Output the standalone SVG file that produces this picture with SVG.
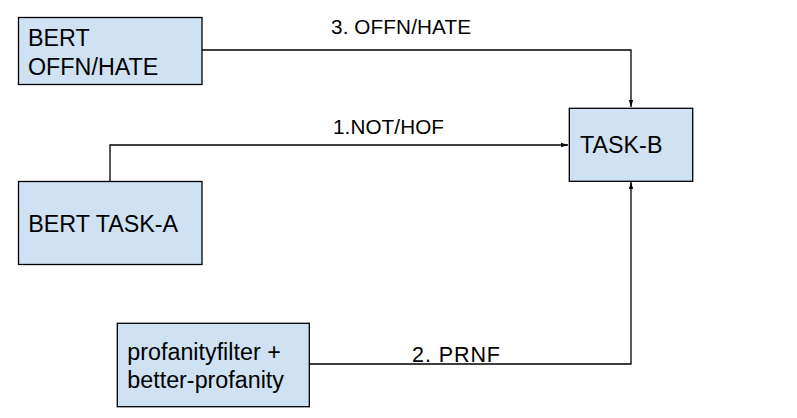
<svg xmlns="http://www.w3.org/2000/svg" width="797" height="418" viewBox="0 0 797 418">
<defs>
<style>
.node rect{fill:#cfe2f3;stroke:#000;stroke-width:1.3}
.node text{font-family:"Liberation Sans",Arial,sans-serif;font-size:23.3px;fill:#000}
.edge path{fill:none;stroke:#000;stroke-width:1.3}
.lbl{font-family:"Liberation Sans",Arial,sans-serif;font-size:20.7px;fill:#000}
</style>
<marker id="arr" markerWidth="8" markerHeight="6" refX="7" refY="3" orient="auto" markerUnits="userSpaceOnUse">
<path d="M0,0.8 L7,3 L0,5.2 Z" fill="#000"/>
</marker>
</defs>
<rect width="797" height="418" fill="#fff"/>
<g id="connectors" class="edge">
<path d="M202,50 H631 V107" marker-end="url(#arr)"/>
<path d="M110,181 V145 H568" marker-end="url(#arr)"/>
<path d="M309,364 H631 V182" marker-end="url(#arr)"/>
<text class="lbl" x="331" y="34.3" textLength="140" lengthAdjust="spacing">3. OFFN/HATE</text>
<text class="lbl" x="333" y="134.3" textLength="111" lengthAdjust="spacing">1.NOT/HOF</text>
<text class="lbl" x="412" y="361.7" textLength="88" lengthAdjust="spacing" style="font-size:21.5px">2. PRNF</text>
</g>
<g id="bert-offn-hate" class="node">
<rect x="18.5" y="17.5" width="183.5" height="67"/>
<text x="28" y="45.7">BERT</text>
<text x="28" y="75">OFFN/HATE</text>
</g>
<g id="bert-task-a" class="node">
<rect x="18.5" y="181.5" width="183.5" height="83"/>
<text x="28.3" y="231.7">BERT TASK-A</text>
</g>
<g id="task-b" class="node">
<rect x="569.3" y="108.3" width="123.4" height="73"/>
<text x="580" y="152.7">TASK-B</text>
</g>
<g id="profanity" class="node">
<rect x="117.3" y="323.3" width="192" height="83.4"/>
<text x="127.3" y="360">profanityfilter +</text>
<text x="127.3" y="388.3">better-profanity</text>
</g>
</svg>
